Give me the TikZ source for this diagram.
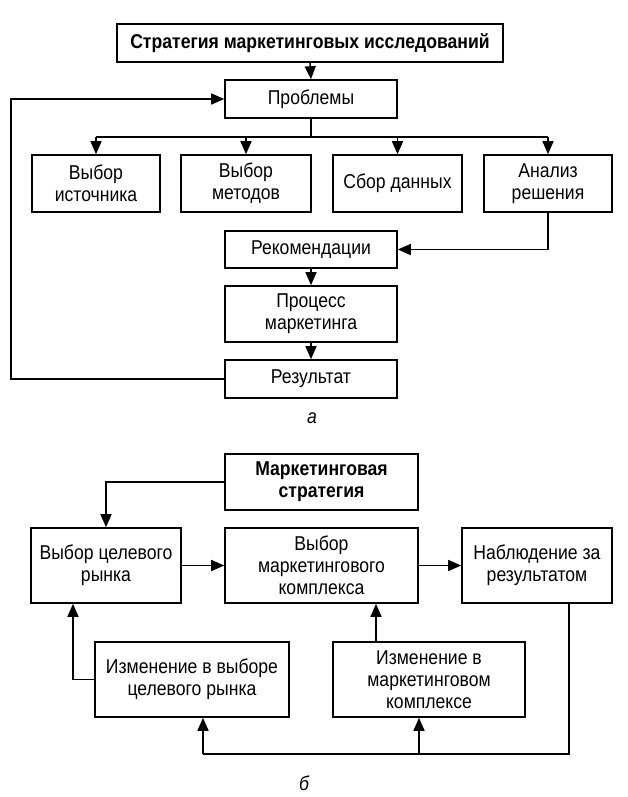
\documentclass[tikz,border=0pt]{standalone}
\usepackage{fontspec}
\setmainfont{Liberation Sans}[FakeStretch=0.88]
\usetikzlibrary{arrows.meta,calc}
\tikzset{
  box/.style={draw, line width=1.6pt, align=center, inner sep=0pt, font=\fontsize{20}{22}\selectfont},
  conn/.style={line width=1.5pt},
  arr/.style={line width=1.5pt, -{Triangle[length=13pt,width=11pt]}},
  lbl/.style={font=\fontsize{20}{22}\selectfont\itshape}
}
\begin{document}
\begin{tikzpicture}[x=1pt,y=-1pt]
\useasboundingbox (0,0) rectangle (627,797);
% ---- part a ----
\node[box, minimum width=386pt, minimum height=38pt, font=\fontsize{20}{22}\selectfont\bfseries] (title) at (310,43) {Стратегия маркетинговых исследований};
\node[box, minimum width=172pt, minimum height=38pt] (prob) at (311,99) {Проблемы};
\node[box, minimum width=128pt, minimum height=57pt] (s1) at (96,183.5) {Выбор\\источника};
\node[box, minimum width=130pt, minimum height=57pt] (s2) at (246,183.5) {Выбор\\методов};
\node[box, minimum width=129pt, minimum height=57pt] (s3) at (397.5,183.5) {Сбор данных};
\node[box, minimum width=128pt, minimum height=57pt] (s4) at (548,183.5) {Анализ\\решения};
\node[box, minimum width=172pt, minimum height=37pt] (rec) at (311,249.5) {Рекомендации};
\node[box, minimum width=172pt, minimum height=56pt] (proc) at (311,314) {Процесс\\маркетинга};
\node[box, minimum width=172pt, minimum height=38pt] (res) at (311,379) {Результат};
\node[lbl] (la) at (312,418) {а};
\coordinate (bus) at (311,137);
\coordinate (fb) at (11,0);
\draw[arr] (title.south) -- (prob.north);
\draw[conn] (prob.south) -- (bus);
\draw[conn] (s1.north |- bus) -- (s4.north |- bus);
\draw[arr] (s1.north |- bus) -- (s1.north);
\draw[arr] (s2.north |- bus) -- (s2.north);
\draw[arr] (s3.north |- bus) -- (s3.north);
\draw[arr] (s4.north |- bus) -- (s4.north);
\draw[arr] (s4.south) |- (rec.east);
\draw[arr] (rec.south) -- (proc.north);
\draw[arr] (proc.south) -- (res.north);
\draw[arr] (res.west) -- (res.west -| fb) |- (prob.west);
% ---- part b ----
\node[box, minimum width=193pt, minimum height=56pt, font=\fontsize{20}{22}\selectfont\bfseries] (ms) at (321.5,482) {Маркетинговая\\стратегия};
\node[box, minimum width=150pt, minimum height=75pt] (vtr) at (106,565.5) {Выбор целевого\\рынка};
\node[box, minimum width=193pt, minimum height=75pt] (vmk) at (321.5,565.5) {Выбор\\маркетингового\\комплекса};
\node[box, minimum width=150pt, minimum height=75pt] (nab) at (537,565.5) {Наблюдение за\\результатом};
\node[box, minimum width=194pt, minimum height=75pt] (iz1) at (192,679.5) {Изменение в выборе\\целевого рынка};
\node[box, minimum width=192pt, minimum height=75pt] (iz2) at (429,679.5) {Изменение в\\маркетинговом\\комплексе};
\node[lbl] (lb) at (304,783) {б};
\coordinate (l1) at (73,0);
\coordinate (l2) at (376,0);
\coordinate (r1) at (569,754);
\coordinate (b1) at (203,754);
\coordinate (b2) at (419,754);
\draw[arr] (ms.west) -| (vtr.north);
\draw[arr] (vtr.east) -- (vmk.west);
\draw[arr] (vmk.east) -- (nab.west);
\draw[arr] (iz1.west) -| (l1 |- vtr.south);
\draw[arr] (l2 |- iz2.north) -- (l2 |- vmk.south);
\draw[conn] (r1 |- nab.south) -- (r1) -- (b1);
\draw[arr] (b1) -- (b1 |- iz1.south);
\draw[arr] (b2) -- (b2 |- iz2.south);
\end{tikzpicture}
\end{document}
